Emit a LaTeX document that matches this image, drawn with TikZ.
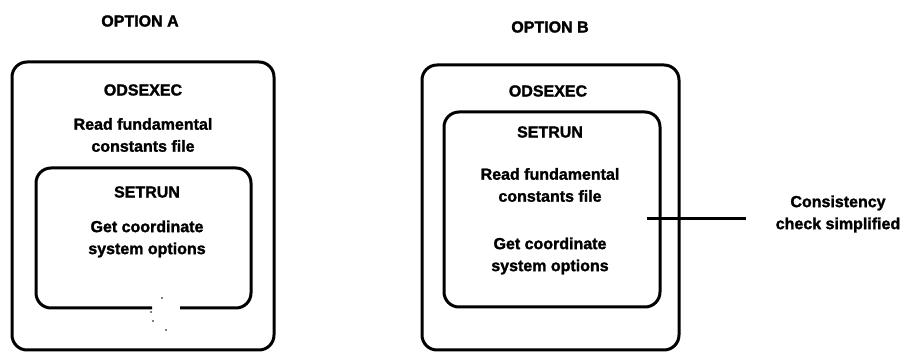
\documentclass[tikz,border=0pt]{standalone}
\usepackage{fontspec}
\setmainfont{Liberation Sans}[BoldFeatures={FakeBold=1.6}]

\tikzset{
  frame/.style={line width=3pt, rounded corners=15pt},
  label/.style={font=\bfseries\fontsize{16}{22}\selectfont, align=center, inner sep=0pt},
  title/.style={label},
}

\begin{document}
\begin{tikzpicture}[x=1pt,y=-1pt]
\useasboundingbox (0,0) rectangle (905,352);

% Option A: SETRUN sits inside ODSEXEC, constants read by ODSEXEC
\node[title] (titleA) at (140,21) {OPTION A};
\draw[frame] (12,62) rectangle (274,350);
\node[label] (execA) at (143,90) {ODSEXEC};
\node[label] (readA) at (143,135) {Read fundamental\\constants file};

% inner box left open at the bottom
\draw[frame] (180,308) -- (251,308) -- (251,168) -- (36,168) -- (36,308) -- (152,308);
\node[label] (setA) at (147,192) {SETRUN};
\node[label] (getA) at (147,239) {Get coordinate\\system options};

% specks in the gap
\foreach \px/\py in {162/298, 151/312, 153/321, 166/330}
  \fill (\px,\py) circle (0.9pt);

% Option B: constants read by SETRUN itself
\node[title] (titleB) at (550,27) {OPTION B};
\draw[frame] (422,65) rectangle (679,350);
\node[label] (execB) at (548,91) {ODSEXEC};

\draw[frame] (444,112) rectangle (660,307);
\node[label] (setB) at (550,132) {SETRUN};
\node[label] (readB) at (550,185) {Read fundamental\\constants file};
\node[label] (getB) at (550,256) {Get coordinate\\system options};

% Callout
\node[label] (note) at (838,214) {Consistency\\check simplified};
\coordinate (tap) at (647,219);
\draw[line width=3pt, shorten >=30pt] (tap) -- (tap -| note.west);

\end{tikzpicture}
\end{document}
